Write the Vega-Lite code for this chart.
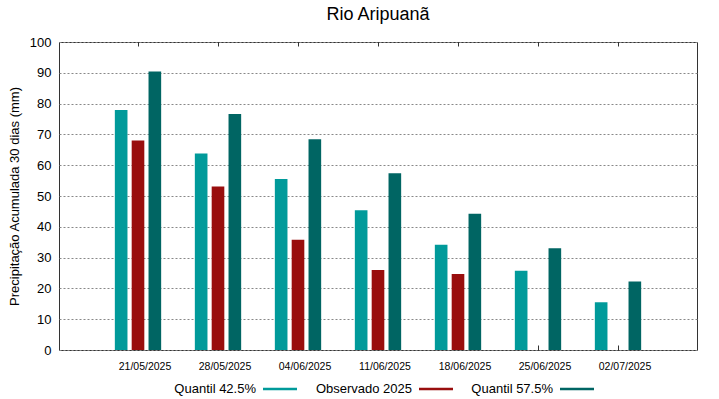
{
  "$schema": "https://vega.github.io/schema/vega-lite/v6.json",
  "width": 638,
  "height": 308,
  "autosize": {"type": "none"},
  "padding": {"left": 59, "top": 42, "right": 22, "bottom": 49},
  "title": {"text": "Rio Aripuanã", "fontSize": 18, "font": "Liberation Sans", "fontWeight": "normal", "offset": 12, "color": "#000"},
  "config": {
    "font": "Liberation Sans",
    "view": {"stroke": "#333", "strokeWidth": 1},
    "axis": {"labelColor": "#000", "titleColor": "#000", "titleFontWeight": "normal"}
  },
  "data": {
    "values": [
      {"date": "21/05/2025", "serie": "Quantil 42.5%", "value": 77.9},
      {"date": "21/05/2025", "serie": "Observado 2025", "value": 68.0},
      {"date": "21/05/2025", "serie": "Quantil 57.5%", "value": 90.4},
      {"date": "28/05/2025", "serie": "Quantil 42.5%", "value": 63.8},
      {"date": "28/05/2025", "serie": "Observado 2025", "value": 53.1},
      {"date": "28/05/2025", "serie": "Quantil 57.5%", "value": 76.6},
      {"date": "04/06/2025", "serie": "Quantil 42.5%", "value": 55.5},
      {"date": "04/06/2025", "serie": "Observado 2025", "value": 35.8},
      {"date": "04/06/2025", "serie": "Quantil 57.5%", "value": 68.4},
      {"date": "11/06/2025", "serie": "Quantil 42.5%", "value": 45.4},
      {"date": "11/06/2025", "serie": "Observado 2025", "value": 26.0},
      {"date": "11/06/2025", "serie": "Quantil 57.5%", "value": 57.4},
      {"date": "18/06/2025", "serie": "Quantil 42.5%", "value": 34.2},
      {"date": "18/06/2025", "serie": "Observado 2025", "value": 24.7},
      {"date": "18/06/2025", "serie": "Quantil 57.5%", "value": 44.2},
      {"date": "25/06/2025", "serie": "Quantil 42.5%", "value": 25.7},
      {"date": "25/06/2025", "serie": "Quantil 57.5%", "value": 33.0},
      {"date": "02/07/2025", "serie": "Quantil 42.5%", "value": 15.5},
      {"date": "02/07/2025", "serie": "Quantil 57.5%", "value": 22.2}
    ]
  },
  "encoding": {
    "xOffset": {
      "field": "serie", "type": "nominal",
      "scale": {"domain": ["Quantil 42.5%", "Observado 2025", "Quantil 57.5%"], "paddingInner": 0.25, "paddingOuter": 1.125}
    },
    "y": {
      "field": "value", "type": "quantitative",
      "title": "Precipitação Acumulada 30 dias (mm)",
      "scale": {"domain": [0, 100], "nice": false},
      "axis": {"values": [0,10,20,30,40,50,60,70,80,90,100], "labelFontSize": 13, "titleFontSize": 13, "tickSize": 0, "labelPadding": 8, "titlePadding": 8, "domain": false, "gridDash": [2, 2], "gridColor": "#888", "gridWidth": 1}
    }
  },
  "layer": [
    {
      "mark": {"type": "bar"},
      "encoding": {
        "x": {
          "field": "date", "type": "ordinal", "title": null,
          "scale": {
            "domain": ["21/05/2025", "28/05/2025", "04/06/2025", "11/06/2025", "18/06/2025", "25/06/2025", "02/07/2025"],
            "paddingInner": 0, "paddingOuter": 0.4875
          },
          "axis": {"labelAngle": 0, "labelFontSize": 10.5, "labelPadding": 16, "tickSize": -5, "tickColor": "#333", "domain": false, "labelOffset": 7}
        },
        "color": {
          "field": "serie", "type": "nominal",
          "scale": {"domain": ["Quantil 42.5%", "Observado 2025", "Quantil 57.5%"], "range": ["#009a9a", "#990e0e", "#006563"]},
          "legend": {
            "title": null, "orient": "none", "legendX": 204, "legendY": 330, "direction": "horizontal",
            "symbolType": "M-1,-0.08H1V0.08H-1Z", "symbolSize": 1156, "symbolStrokeWidth": 0,
            "labelFontSize": 13, "labelAlign": "right", "labelOffset": -41, "columnPadding": 18, "labelColor": "#000", "labelLimit": 200
          }
        }
      }
    },
    {
      "mark": {"type": "bar", "opacity": 0},
      "encoding": {
        "x": {
          "field": "date", "type": "ordinal", "title": null,
          "scale": {
            "domain": ["21/05/2025", "28/05/2025", "04/06/2025", "11/06/2025", "18/06/2025", "25/06/2025", "02/07/2025"],
            "paddingInner": 0, "paddingOuter": 0.4875
          },
          "axis": {"orient": "top", "labels": false, "tickSize": -4, "tickColor": "#333", "domain": false, "grid": false}
        }
      }
    }
  ],
  "resolve": {"axis": {"x": "independent"}}
}
